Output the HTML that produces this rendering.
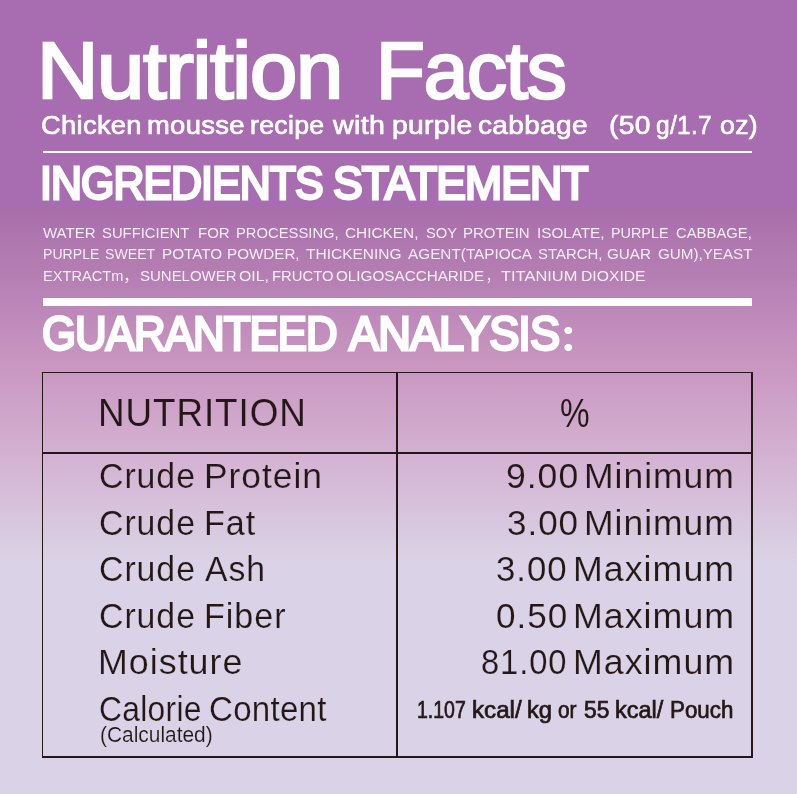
<!DOCTYPE html>
<html lang="en"><head><meta charset="utf-8"><title>Nutrition Facts</title>
<style>
html,body{margin:0;padding:0}
body{width:797px;height:794px;overflow:hidden;position:relative;font-family:"Liberation Sans","Noto Sans CJK SC",sans-serif;
background:linear-gradient(to bottom,#a76db0 0px,#a76db0 206.5px,#a76eaa 206.5px,#ab72ad 226px,#af77af 240px,#b47db2 270px,#ba85b8 300px,#c490bd 340px,#cc9cc5 385px,#d4b3d3 460px,#d8c6de 520px,#d9cfe3 550px,#dad3e7 565px,#dad3e7 794px)}
h1,h2,p,header,section,div{margin:0;padding:0;font-weight:400;font-size:inherit}
.t{position:absolute;white-space:pre;line-height:1;transform-origin:0 0;display:block}
.rule{position:absolute;background:#fff;left:42.5px;width:709.8px}
.ln{position:absolute;background:#231815}
#page{position:absolute;left:0;top:0;width:797px;height:794px;will-change:transform}
</style></head><body>
<div id="page">
<header>
<h1><span class="t" style="left:37.09px;top:31.13px;font-size:79px;font-weight:400;letter-spacing:-1.2px;color:#fff;-webkit-text-stroke:2.5px #fff;transform:scaleX(1.0759)">Nutrition</span>
<span class="t" style="left:375.59px;top:31.13px;font-size:79px;font-weight:400;letter-spacing:-1.2px;color:#fff;-webkit-text-stroke:2.5px #fff;transform:scaleX(1.0135)">Facts</span></h1>
<p><span class="t" style="left:41.33px;top:112.15px;font-size:26.4px;font-weight:400;letter-spacing:0.3px;color:#fff;-webkit-text-stroke:0.7px #fff;transform:scaleX(1.0350)">Chicken</span>
<span class="t" style="left:146.93px;top:112.15px;font-size:26.4px;font-weight:400;letter-spacing:0.3px;color:#fff;-webkit-text-stroke:0.7px #fff;transform:scaleX(1.0374)">mousse</span>
<span class="t" style="left:250.34px;top:112.15px;font-size:26.4px;font-weight:400;letter-spacing:0.3px;color:#fff;-webkit-text-stroke:0.7px #fff;transform:scaleX(1.0110)">recipe</span>
<span class="t" style="left:332.66px;top:112.15px;font-size:26.4px;font-weight:400;letter-spacing:0.3px;color:#fff;-webkit-text-stroke:0.7px #fff;transform:scaleX(1.0825)">with</span>
<span class="t" style="left:392.10px;top:112.15px;font-size:26.4px;font-weight:400;letter-spacing:0.3px;color:#fff;-webkit-text-stroke:0.7px #fff;transform:scaleX(1.0706)">purple</span>
<span class="t" style="left:477.81px;top:112.15px;font-size:26.4px;font-weight:400;letter-spacing:0.3px;color:#fff;-webkit-text-stroke:0.7px #fff;transform:scaleX(1.0629)">cabbage</span>
<span class="t" style="left:608.50px;top:112.15px;font-size:26.4px;font-weight:400;letter-spacing:0.3px;color:#fff;-webkit-text-stroke:0.7px #fff;transform:scaleX(1.0698)">(50</span>
<span class="t" style="left:656.00px;top:112.15px;font-size:26.4px;font-weight:400;letter-spacing:0.3px;color:#fff;-webkit-text-stroke:0.7px #fff;transform:scaleX(0.9284)">g/1.7</span>
<span class="t" style="left:719.94px;top:112.15px;font-size:26.4px;font-weight:400;letter-spacing:0.3px;color:#fff;-webkit-text-stroke:0.7px #fff;transform:scaleX(1.0118)">oz)</span></p>
</header>
<div class="rule" style="top:151.4px;height:1.8px"></div>
<section class="ingredients">
<h2><span class="t" style="left:40.00px;top:160.11px;font-size:46.3px;font-weight:400;letter-spacing:-1.0px;color:#fff;-webkit-text-stroke:2.8px #fff;transform:scaleX(0.9254)">INGREDIENTS</span>
<span class="t" style="left:333.35px;top:160.11px;font-size:46.3px;font-weight:400;letter-spacing:-1.0px;color:#fff;-webkit-text-stroke:2.8px #fff;transform:scaleX(0.9619)">STATEMENT</span></h2>
<p><span class="t" style="left:42.92px;top:224.72px;font-size:15.1px;font-weight:400;letter-spacing:0px;color:#f7eef8;transform:scaleX(0.9953)">WATER</span>
<span class="t" style="left:102.14px;top:224.72px;font-size:15.1px;font-weight:400;letter-spacing:0px;color:#f7eef8;transform:scaleX(0.9823)">SUFFICIENT</span>
<span class="t" style="left:197.56px;top:224.72px;font-size:15.1px;font-weight:400;letter-spacing:0px;color:#f7eef8;transform:scaleX(0.9957)">FOR</span>
<span class="t" style="left:235.55px;top:224.72px;font-size:15.1px;font-weight:400;letter-spacing:0px;color:#f7eef8;transform:scaleX(0.9798)">PROCESSING,</span>
<span class="t" style="left:345.41px;top:224.72px;font-size:15.1px;font-weight:400;letter-spacing:0px;color:#f7eef8;transform:scaleX(1.0183)">CHICKEN,</span>
<span class="t" style="left:425.95px;top:224.72px;font-size:15.1px;font-weight:400;letter-spacing:0px;color:#f7eef8;transform:scaleX(0.9758)">SOY</span>
<span class="t" style="left:462.73px;top:224.72px;font-size:15.1px;font-weight:400;letter-spacing:0px;color:#f7eef8;transform:scaleX(0.9937)">PROTEIN</span>
<span class="t" style="left:536.97px;top:224.72px;font-size:15.1px;font-weight:400;letter-spacing:0px;color:#f7eef8;transform:scaleX(1.0100)">ISOLATE,</span>
<span class="t" style="left:611.42px;top:224.72px;font-size:15.1px;font-weight:400;letter-spacing:0px;color:#f7eef8;transform:scaleX(0.9523)">PURPLE</span>
<span class="t" style="left:676.44px;top:224.72px;font-size:15.1px;font-weight:400;letter-spacing:0px;color:#f7eef8;transform:scaleX(0.9829)">CABBAGE,</span>
<span class="t" style="left:43.13px;top:246.12px;font-size:15.1px;font-weight:400;letter-spacing:0px;color:#f7eef8;transform:scaleX(0.9345)">PURPLE</span>
<span class="t" style="left:105.17px;top:246.12px;font-size:15.1px;font-weight:400;letter-spacing:0px;color:#f7eef8;transform:scaleX(0.9362)">SWEET</span>
<span class="t" style="left:161.91px;top:246.12px;font-size:15.1px;font-weight:400;letter-spacing:0px;color:#f7eef8;transform:scaleX(1.0104)">POTATO</span>
<span class="t" style="left:226.69px;top:246.12px;font-size:15.1px;font-weight:400;letter-spacing:0px;color:#f7eef8;transform:scaleX(1.0062)">POWDER,</span>
<span class="t" style="left:306.21px;top:246.12px;font-size:15.1px;font-weight:400;letter-spacing:0px;color:#f7eef8;transform:scaleX(1.0273)">THICKENING</span>
<span class="t" style="left:408.49px;top:246.12px;font-size:15.1px;font-weight:400;letter-spacing:0px;color:#f7eef8;transform:scaleX(1.0153)">AGENT(TAPIOCA</span>
<span class="t" style="left:538.14px;top:246.12px;font-size:15.1px;font-weight:400;letter-spacing:0px;color:#f7eef8;transform:scaleX(0.9884)">STARCH,</span>
<span class="t" style="left:607.24px;top:246.12px;font-size:15.1px;font-weight:400;letter-spacing:0px;color:#f7eef8;transform:scaleX(1.0085)">GUAR</span>
<span class="t" style="left:658.03px;top:246.12px;font-size:15.1px;font-weight:400;letter-spacing:0px;color:#f7eef8;transform:scaleX(1.0064)">GUM),YEAST</span>
<span class="t" style="left:43.05px;top:267.52px;font-size:15.1px;font-weight:400;letter-spacing:0px;color:#f7eef8;transform:scaleX(0.9673)">EXTRACTm</span><span class="t" style="left:123.17px;top:267.52px;font-size:15.1px;font-weight:400;letter-spacing:0px;color:#f7eef8;transform:scaleX(1.0667)">，</span>
<span class="t" style="left:139.74px;top:267.52px;font-size:15.1px;font-weight:400;letter-spacing:0px;color:#f7eef8;transform:scaleX(0.9925)">SUNELOWER</span>
<span class="t" style="left:238.84px;top:267.52px;font-size:15.1px;font-weight:400;letter-spacing:0px;color:#f7eef8;transform:scaleX(1.0521)">OIL,</span>
<span class="t" style="left:272.35px;top:267.52px;font-size:15.1px;font-weight:400;letter-spacing:0px;color:#f7eef8;transform:scaleX(0.9819)">FRUCTO</span>
<span class="t" style="left:336.25px;top:267.52px;font-size:15.1px;font-weight:400;letter-spacing:0px;color:#f7eef8;transform:scaleX(1.0101)">OLIGOSACCHARIDE</span><span class="t" style="left:486.13px;top:267.52px;font-size:15.1px;font-weight:400;letter-spacing:0px;color:#f7eef8;transform:scaleX(0.8333)">，</span>
<span class="t" style="left:501.19px;top:267.52px;font-size:15.1px;font-weight:400;letter-spacing:0px;color:#f7eef8;transform:scaleX(1.0898)">TITANIUM</span>
<span class="t" style="left:580.84px;top:267.52px;font-size:15.1px;font-weight:400;letter-spacing:0px;color:#f7eef8;transform:scaleX(1.0403)">DIOXIDE</span></p>
</section>
<div class="rule" style="top:298.4px;height:7.5px"></div>
<section class="analysis">
<h2><span class="t" style="left:41.57px;top:309.71px;font-size:47.6px;font-weight:400;letter-spacing:-1.0px;color:#fff;-webkit-text-stroke:2.8px #fff;transform:scaleX(0.9196)">GUARANTEED</span>
<span class="t" style="left:348.81px;top:309.71px;font-size:47.6px;font-weight:400;letter-spacing:-1.0px;color:#fff;-webkit-text-stroke:2.8px #fff;transform:scaleX(0.9499)">ANALYSIS</span><span class="t" style="left:558.45px;top:320.52px;font-size:36.6px;font-weight:700;letter-spacing:0px;color:#fff;transform:scaleX(1.1266)">：</span></h2>
<div class="table">
<div class="ln" style="left:42.5px;top:371.5px;width:710.2px;height:1.4px"></div>
<div class="ln" style="left:42.5px;top:452.4px;width:710.2px;height:1.4px"></div>
<div class="ln" style="left:42.5px;top:756.4px;width:710.2px;height:1.5px"></div>
<div class="ln" style="left:42px;top:371.5px;width:1.4px;height:386.4px"></div>
<div class="ln" style="left:396.4px;top:371.5px;width:1.4px;height:386.4px"></div>
<div class="ln" style="left:751.2px;top:371.5px;width:1.5px;height:386.4px"></div>
<div class="row head"><div class="cell"><span class="t" style="left:97.74px;top:392.65px;font-size:39.4px;font-weight:400;letter-spacing:1px;color:#231815;-webkit-text-stroke:0.1px #cfa4ca;transform:scaleX(0.9344)">NUTRITION</span></div>
<div class="cell"><span class="t" style="left:559.78px;top:393.20px;font-size:40.4px;font-weight:400;letter-spacing:0px;color:#231815;-webkit-text-stroke:0.1px #cfa5ca;transform:scaleX(0.8249)">%</span></div></div>
<div class="row"><div class="cell"><span class="t" style="left:99.25px;top:459.10px;font-size:35.8px;font-weight:400;letter-spacing:1px;color:#231815;-webkit-text-stroke:0.2px #d5b8d6;transform:scaleX(0.9454)">Crude</span> <span class="t" style="left:203.51px;top:459.10px;font-size:35.8px;font-weight:400;letter-spacing:1px;color:#231815;-webkit-text-stroke:0.2px #d5b8d6;transform:scaleX(0.9878)">Protein</span></div>
<div class="cell"><span class="t" style="left:506.04px;top:459.10px;font-size:35.8px;font-weight:400;letter-spacing:1px;color:#231815;-webkit-text-stroke:0.2px #d5b8d6;transform:scaleX(0.9927)">9.00</span> <span class="t" style="left:584.45px;top:459.10px;font-size:35.8px;font-weight:400;letter-spacing:1px;color:#231815;-webkit-text-stroke:0.2px #d5b8d6;transform:scaleX(0.9917)">Minimum</span></div></div>
<div class="row"><div class="cell"><span class="t" style="left:99.25px;top:505.80px;font-size:35.8px;font-weight:400;letter-spacing:1px;color:#231815;-webkit-text-stroke:0.2px #d8c7df;transform:scaleX(0.9453)">Crude</span> <span class="t" style="left:203.72px;top:505.80px;font-size:35.8px;font-weight:400;letter-spacing:1px;color:#231815;-webkit-text-stroke:0.2px #d8c7df;transform:scaleX(0.9544)">Fat</span></div>
<div class="cell"><span class="t" style="left:506.77px;top:505.80px;font-size:35.8px;font-weight:400;letter-spacing:1px;color:#231815;-webkit-text-stroke:0.2px #d8c7df;transform:scaleX(0.9783)">3.00</span> <span class="t" style="left:584.45px;top:505.80px;font-size:35.8px;font-weight:400;letter-spacing:1px;color:#231815;-webkit-text-stroke:0.2px #d8c7df;transform:scaleX(0.9916)">Minimum</span></div></div>
<div class="row"><div class="cell"><span class="t" style="left:99.25px;top:552.20px;font-size:35.8px;font-weight:400;letter-spacing:1px;color:#231815;-webkit-text-stroke:0.2px #dad3e7;transform:scaleX(0.9453)">Crude</span> <span class="t" style="left:205.46px;top:552.20px;font-size:35.8px;font-weight:400;letter-spacing:1px;color:#231815;-webkit-text-stroke:0.2px #dad3e7;transform:scaleX(0.9428)">Ash</span></div>
<div class="cell"><span class="t" style="left:495.99px;top:552.20px;font-size:35.8px;font-weight:400;letter-spacing:1px;color:#231815;-webkit-text-stroke:0.2px #dad3e7;transform:scaleX(0.9718)">3.00</span> <span class="t" style="left:573.30px;top:552.20px;font-size:35.8px;font-weight:400;letter-spacing:1px;color:#231815;-webkit-text-stroke:0.2px #dad3e7;transform:scaleX(0.9999)">Maximum</span></div></div>
<div class="row"><div class="cell"><span class="t" style="left:99.25px;top:599.30px;font-size:35.8px;font-weight:400;letter-spacing:1px;color:#231815;-webkit-text-stroke:0.2px #dad3e7;transform:scaleX(0.9453)">Crude</span> <span class="t" style="left:203.70px;top:599.30px;font-size:35.8px;font-weight:400;letter-spacing:1px;color:#231815;-webkit-text-stroke:0.2px #dad3e7;transform:scaleX(0.9534)">Fiber</span></div>
<div class="cell"><span class="t" style="left:495.79px;top:599.30px;font-size:35.8px;font-weight:400;letter-spacing:1px;color:#231815;-webkit-text-stroke:0.2px #dad3e7;transform:scaleX(0.9795)">0.50</span> <span class="t" style="left:573.30px;top:599.30px;font-size:35.8px;font-weight:400;letter-spacing:1px;color:#231815;-webkit-text-stroke:0.2px #dad3e7;transform:scaleX(0.9999)">Maximum</span></div></div>
<div class="row"><div class="cell"><span class="t" style="left:97.80px;top:645.10px;font-size:35.8px;font-weight:400;letter-spacing:1px;color:#231815;-webkit-text-stroke:0.2px #dad3e7;transform:scaleX(1.0006)">Moisture</span></div>
<div class="cell"><span class="t" style="left:481.37px;top:645.10px;font-size:35.8px;font-weight:400;letter-spacing:1px;color:#231815;-webkit-text-stroke:0.2px #dad3e7;transform:scaleX(0.9129)">81.00</span> <span class="t" style="left:573.30px;top:645.10px;font-size:35.8px;font-weight:400;letter-spacing:1px;color:#231815;-webkit-text-stroke:0.2px #dad3e7;transform:scaleX(0.9999)">Maximum</span></div></div>
<div class="row"><div class="cell"><span class="t" style="left:99.40px;top:692.48px;font-size:34.4px;font-weight:400;letter-spacing:0.3px;color:#231815;-webkit-text-stroke:0.2px #dad3e7;transform:scaleX(0.9251)">Calorie</span> <span class="t" style="left:208.90px;top:692.48px;font-size:34.4px;font-weight:400;letter-spacing:0.3px;color:#231815;-webkit-text-stroke:0.2px #dad3e7;transform:scaleX(0.9608)">Content</span></div>
<div class="cell"><span class="t" style="left:99.64px;top:724.35px;font-size:21.2px;font-weight:400;letter-spacing:0px;color:#231815;-webkit-text-stroke:0.15px #dad3e7;transform:scaleX(0.9867)">(Calculated)</span></div>
<div class="cell"><span class="t" style="left:417.13px;top:699.13px;font-size:23.0px;font-weight:400;letter-spacing:0px;color:#231815;-webkit-text-stroke:0.7px #231815;transform:scaleX(0.8466)">1.107</span> <span class="t" style="left:471.88px;top:699.13px;font-size:23.0px;font-weight:400;letter-spacing:0px;color:#231815;-webkit-text-stroke:0.7px #231815;transform:scaleX(1.0511)">kcal/</span> <span class="t" style="left:527.10px;top:699.13px;font-size:23.0px;font-weight:400;letter-spacing:0px;color:#231815;-webkit-text-stroke:0.7px #231815;transform:scaleX(1.0326)">kg</span> <span class="t" style="left:558.21px;top:699.13px;font-size:23.0px;font-weight:400;letter-spacing:0px;color:#231815;-webkit-text-stroke:0.7px #231815;transform:scaleX(0.9075)">or</span> <span class="t" style="left:583.97px;top:699.13px;font-size:23.0px;font-weight:400;letter-spacing:0px;color:#231815;-webkit-text-stroke:0.7px #231815;transform:scaleX(0.9902)">55</span> <span class="t" style="left:614.71px;top:699.13px;font-size:23.0px;font-weight:400;letter-spacing:0px;color:#231815;-webkit-text-stroke:0.7px #231815;transform:scaleX(1.0215)">kcal/</span> <span class="t" style="left:669.76px;top:699.13px;font-size:23.0px;font-weight:400;letter-spacing:0px;color:#231815;-webkit-text-stroke:0.7px #231815;transform:scaleX(0.9706)">Pouch</span></div></div>
</div>
</section>
</div>
</body></html>
